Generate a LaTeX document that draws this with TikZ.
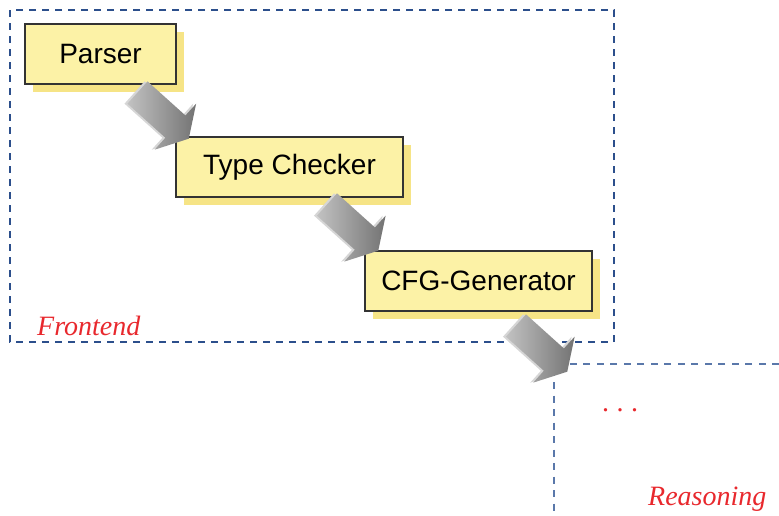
\documentclass[tikz,border=0pt]{standalone}
\usepackage{fontspec}
\setmainfont{Liberation Serif}
\setsansfont{Liberation Sans}
\usetikzlibrary{shadows}

\definecolor{boxyellow}{HTML}{FCF2A6}
\definecolor{shadowyellow}{HTML}{F6E486}
\definecolor{frameblue}{HTML}{2C4F8C}
\definecolor{lineblue}{HTML}{5A78AA}
\definecolor{labelred}{HTML}{E8282D}

\begin{document}
\begin{tikzpicture}[x=1pt, y=-1pt,
    stage/.style={draw=black!80, line width=1.2pt, fill=boxyellow, minimum height=60pt,
        inner sep=0pt, font=\sffamily\fontsize{28}{28}\selectfont,
        drop shadow={shadow xshift=8pt, shadow yshift=-8pt, fill=shadowyellow, opacity=1}},
    part/.style={font=\itshape\fontsize{28}{28}\selectfont, text=labelred,
        anchor=base west, inner sep=0pt},
    fatarrow/.pic={
        \fill[black!16, shift={(-2.2,2)}] (0,-15) -- (51,-15) -- (51,-31) -- (69,0)
            -- (51,31) -- (51,15) -- (0,15) -- cycle;
        \shade[left color=black!24, right color=black!55] (0,-15) -- (51,-15) -- (51,-31)
            -- (69,0) -- (51,31) -- (51,15) -- (0,15) -- cycle;
    }]
    \useasboundingbox (0,0) rectangle (779,515);

    \draw[frameblue, line width=2.6pt, dash pattern=on 7pt off 6pt] (10,10) rectangle (614,342);
    \draw[lineblue, line width=1.2pt, dash pattern=on 7pt off 6.5pt] (779,364) -- (554,364) -- (554,515);

    \node[stage, minimum width=151pt] (parser) at (100.5,54) {Parser};
    \node[stage, minimum width=227pt] (checker) at (289.5,167) {Type Checker};
    \node[stage, minimum width=227pt] (cfggen) at (478.5,281) {CFG-Generator};

    \node[part] (frontend) at (37,335) {Frontend};
    \node[part] (reasoning) at (648,505) {Reasoning};
    \node[part, font=\fontsize{28}{28}\selectfont] (dots) at (602,411) {.\kern7.5pt.\kern7.5pt.};

    \coordinate (arr1) at (137.5,92.5);
    \coordinate (arr2) at (327,204.5);
    \coordinate (arr3) at (516,325.5);
    \foreach \a in {arr1,arr2,arr3}
        \pic[rotate=-42] at (\a) {fatarrow};
\end{tikzpicture}
\end{document}
